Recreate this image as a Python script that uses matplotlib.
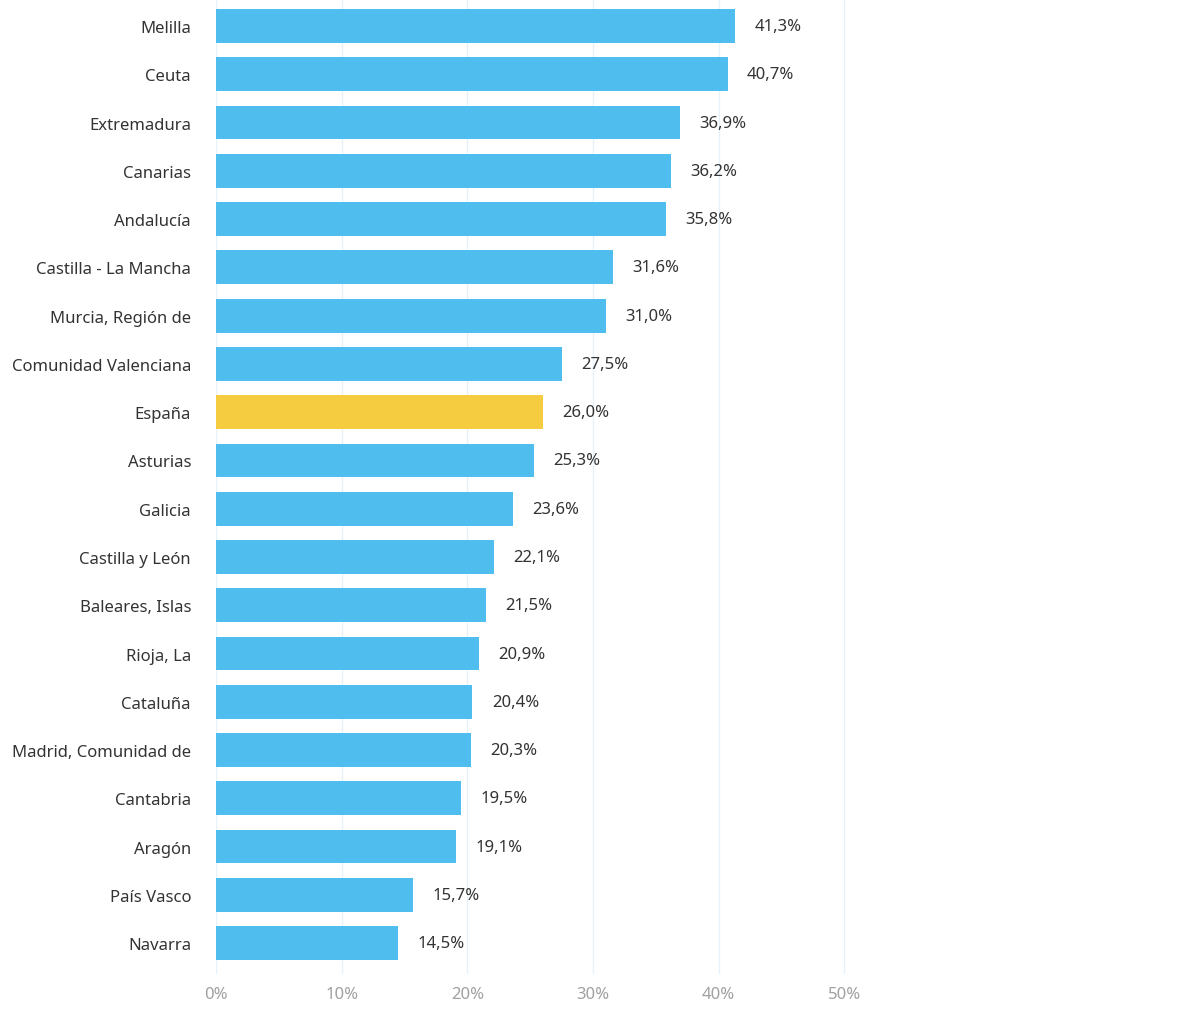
import matplotlib
matplotlib.use('Agg')
import matplotlib.pyplot as plt

regiones = ['Melilla', 'Ceuta', 'Extremadura', 'Canarias', 'Andalucía',
            'Castilla - La Mancha', 'Murcia, Región de', 'Comunidad Valenciana',
            'España', 'Asturias', 'Galicia', 'Castilla y León', 'Baleares, Islas',
            'Rioja, La', 'Cataluña', 'Madrid, Comunidad de', 'Cantabria',
            'Aragón', 'País Vasco', 'Navarra']
valores = [41.3, 40.7, 36.9, 36.2, 35.8, 31.6, 31.0, 27.5, 26.0, 25.3,
           23.6, 22.1, 21.5, 20.9, 20.4, 20.3, 19.5, 19.1, 15.7, 14.5]
ticks = [0, 10, 20, 30, 40, 50]

plt.rcParams['font.family'] = ['Noto Sans', 'DejaVu Sans']

fig = plt.figure(figsize=(11.8, 10.12), dpi=100)
ax = fig.add_axes([216 / 1180, 37 / 1012, 1 - 216 / 1180, 975 / 1012])

y = list(range(len(regiones)))
colores = ['#F5CB3F' if r == 'España' else '#4FBDED' for r in regiones]
ax.barh(y, valores, height=0.7, color=colores, zorder=2)

for yi, v in zip(y, valores):
    ax.text(v + 1.55, yi, f'{v:.1f}%'.replace('.', ','), va='center', ha='left',
            fontsize=12, color='#333333')

ax.set_ylim(19.64, -0.56)
ax.set_xlim(0, 76.7)
ax.set_yticks(y)
ax.set_yticklabels(regiones, fontsize=12, color='#333333')
ax.set_xticks(ticks)
ax.set_xticklabels([f'{t}%' for t in ticks], fontsize=12, color='#A0A0A0')
ax.tick_params(length=0)
ax.tick_params(axis='y', pad=18)
ax.tick_params(axis='x', pad=9)

for t in ticks:
    ax.axvline(t, color='#E6F2FA', lw=1, zorder=1)

for s in ax.spines.values():
    s.set_visible(False)

fig.savefig('out.png', dpi=100)
